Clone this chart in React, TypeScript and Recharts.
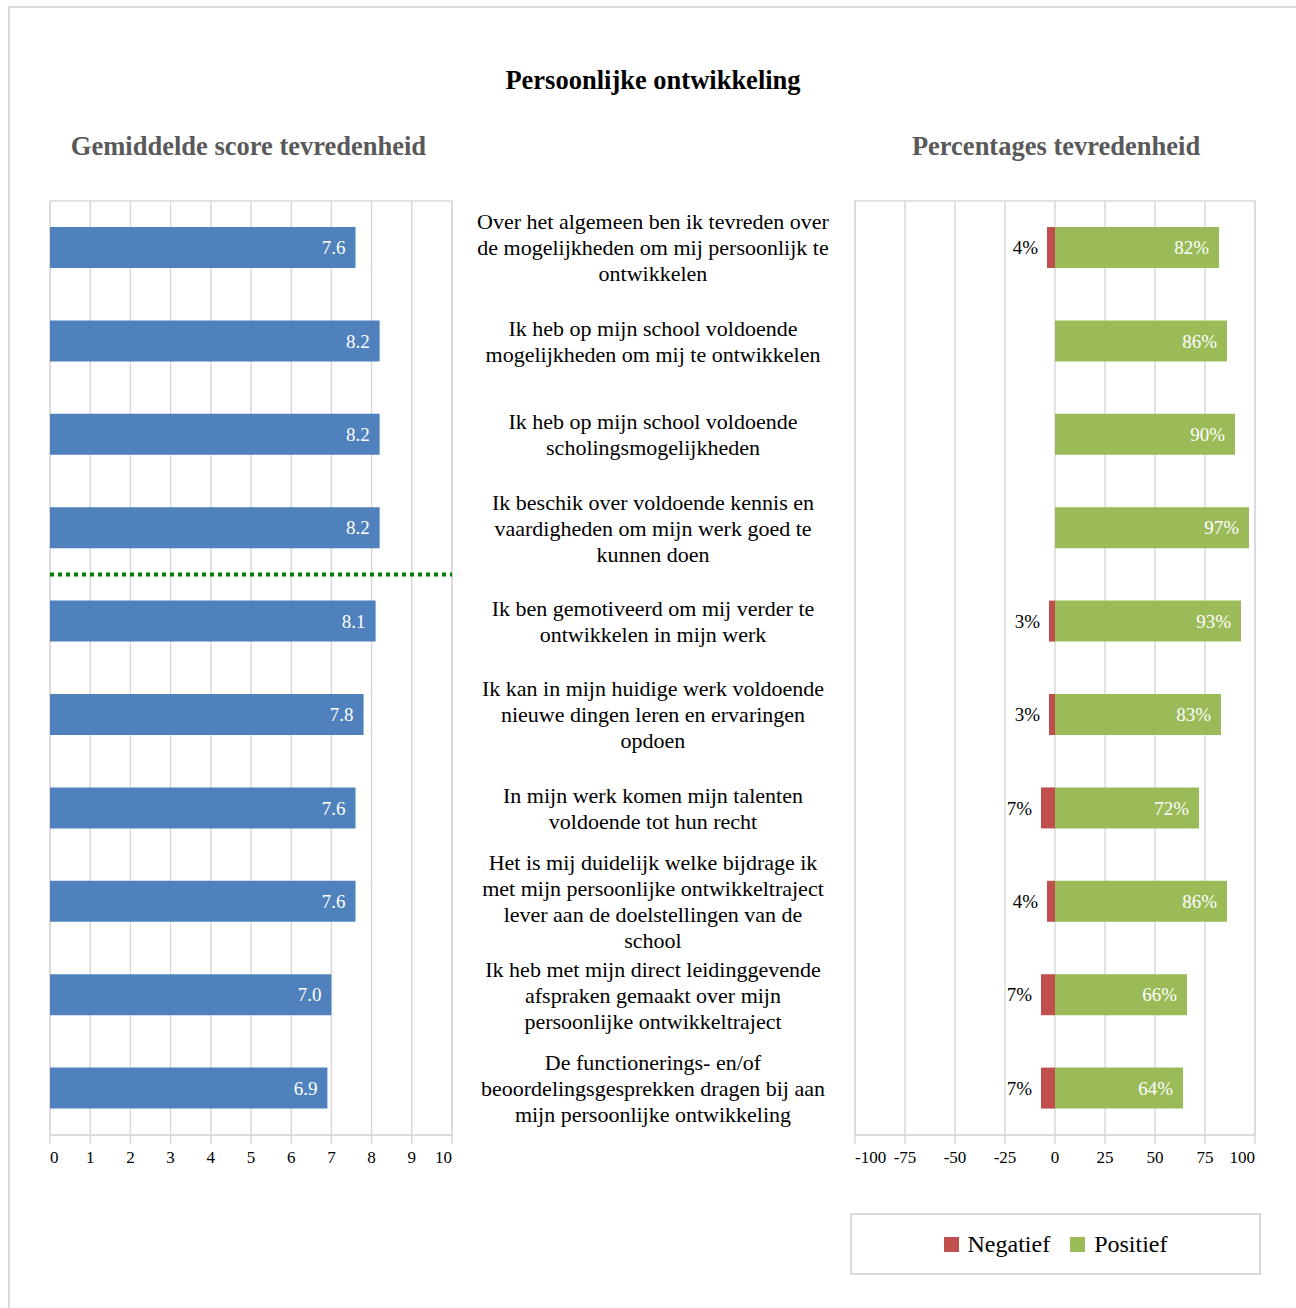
import { BarChart, Bar, XAxis, YAxis, CartesianGrid, ReferenceLine, ReferenceArea, LabelList, Legend } from "recharts";

const vragen = [
  "Over het algemeen ben ik tevreden over\nde mogelijkheden om mij persoonlijk te\nontwikkelen",
  "Ik heb op mijn school voldoende\nmogelijkheden om mij te ontwikkelen",
  "Ik heb op mijn school voldoende\nscholingsmogelijkheden",
  "Ik beschik over voldoende kennis en\nvaardigheden om mijn werk goed te\nkunnen doen",
  "Ik ben gemotiveerd om mij verder te\nontwikkelen in mijn werk",
  "Ik kan in mijn huidige werk voldoende\nnieuwe dingen leren en ervaringen\nopdoen",
  "In mijn werk komen mijn talenten\nvoldoende tot hun recht",
  "Het is mij duidelijk welke bijdrage ik\nmet mijn persoonlijke ontwikkeltraject\nlever aan de doelstellingen van de\nschool",
  "Ik heb met mijn direct leidinggevende\nafspraken gemaakt over mijn\npersoonlijke ontwikkeltraject",
  "De functionerings- en/of\nbeoordelingsgesprekken dragen bij aan\nmijn persoonlijke ontwikkeling",
];

const gemiddelde = [7.6, 8.2, 8.2, 8.2, 8.1, 7.8, 7.6, 7.6, 7.0, 6.9];
const negatief = [4, 0, 0, 0, 3, 3, 7, 4, 7, 7];
const positief = [82, 86, 90, 97, 93, 83, 72, 86, 66, 64];

const scoreTicks = [0, 1, 2, 3, 4, 5, 6, 7, 8, 9, 10];
const procentTicks = [-100, -75, -50, -25, 0, 25, 50, 75, 100];

const FONT = '"Liberation Serif", "Times New Roman", serif';
const BLUE = "#4F81BD";
const RED = "#C0504D";
const GREEN = "#9BBB59";
const GRID = "#d9d9d9";

const scoreData = vragen.map((vraag, i) => ({ vraag, score: gemiddelde[i] }));
const procentData = vragen.map((vraag, i) => ({
  vraag,
  negatief: negatief[i] ? -negatief[i] : 0,
  positief: positief[i],
}));

// excel zet de buitenste labels binnen de as
function AsTick(props: any) {
  const { x, y, payload, index, visibleTicksCount } = props;
  let anchor = "middle";
  if (index === 0) anchor = "start";
  if (index === visibleTicksCount - 1) anchor = "end";
  return (
    <text x={x} y={y} dy="0.71em" textAnchor={anchor} fontSize={17} fontFamily={FONT} fill="#000">
      {payload.value}
    </text>
  );
}

function VraagTick(props: any) {
  const { y, payload } = props;
  const lines = String(payload.value).split("\n");
  const lh = 26;
  const start = y - ((lines.length - 1) * lh) / 2;
  return (
    <text textAnchor="middle" fontSize={22} fontFamily={FONT} fill="#000">
      {lines.map((l, i) => (
        <tspan key={i} x={193} y={start + i * lh} dy="0.35em">
          {l}
        </tspan>
      ))}
    </text>
  );
}

function NegLabel(props: any) {
  const { x, y, width, height, value } = props;
  if (!value) return null;
  const left = Math.min(Number(x), Number(x) + Number(width));
  return (
    <text
      x={left - 9}
      y={Number(y) + Number(height) / 2}
      dy="0.35em"
      textAnchor="end"
      fontSize={19}
      fontFamily={FONT}
      fill="#000"
    >
      {Math.abs(value)}%
    </text>
  );
}

function LegendBox(props: any) {
  const items = props.payload || [];
  return (
    <div
      style={{
        boxSizing: "border-box",
        width: 411,
        height: 62,
        border: `2px solid ${GRID}`,
        display: "flex",
        alignItems: "center",
        justifyContent: "center",
        gap: 20,
        fontFamily: FONT,
        fontSize: 24,
        color: "#000",
      }}
    >
      {items.map((it: any, i: number) => (
        <div key={i} style={{ display: "flex", alignItems: "center", gap: 9 }}>
          <span style={{ width: 15, height: 15, background: it.color, display: "inline-block" }} />
          <span>{it.value}</span>
        </div>
      ))}
    </div>
  );
}

export default function App() {
  return (
    <div
      style={{
        position: "absolute",
        left: 0,
        top: 0,
        width: 1296,
        height: 1308,
        overflow: "hidden",
        background: "#fff",
        fontFamily: FONT,
      }}
    >
      <div
        style={{
          position: "absolute",
          left: 8,
          top: 6,
          width: 1320,
          height: 1320,
          border: `2px solid ${GRID}`,
        }}
      />
      <div style={{ position: "absolute", left: 403, width: 500, top: 65, textAlign: "center", fontWeight: "bold", fontSize: 26.5 }}>
        Persoonlijke ontwikkeling
      </div>
      <div style={{ position: "absolute", left: 0, width: 497, top: 131, textAlign: "center", fontWeight: "bold", fontSize: 26.5, color: "#595959" }}>
        Gemiddelde score tevredenheid
      </div>
      <div style={{ position: "absolute", left: 806, width: 500, top: 131, textAlign: "center", fontWeight: "bold", fontSize: 26.5, color: "#595959" }}>
        Percentages tevredenheid
      </div>

      <div style={{ position: "absolute", left: 0, top: 0 }}>
        <BarChart
          layout="vertical"
          width={470}
          height={1180}
          data={scoreData}
          margin={{ top: 201, right: 18, bottom: 0, left: 50 }}
        >
          <CartesianGrid horizontal={false} stroke={GRID} strokeWidth={1.5} />
          <XAxis
            type="number"
            domain={[0, 10]}
            ticks={scoreTicks}
            interval={0}
            height={45}
            stroke={GRID}
            strokeWidth={1.5}
            tick={<AsTick />}
            tickSize={9}
            tickMargin={7}
          />
          <YAxis type="category" dataKey="vraag" hide />
          <ReferenceArea x1={0} x2={10} fill="none" stroke={GRID} strokeWidth={1.5} ifOverflow="visible" />
          <Bar dataKey="score" fill={BLUE} barSize={41} isAnimationActive={false}>
            <LabelList
              dataKey="score"
              position="insideRight"
              offset={10}
              fill="#fff"
              fontSize={19}
              fontFamily={FONT}
              formatter={(v: any) => Number(v).toFixed(1)}
            />
          </Bar>
          <ReferenceLine
            y={vragen[4]}
            position="start"
            stroke="#008000"
            strokeWidth={4}
            strokeDasharray="4 4"
          />
        </BarChart>
      </div>

      <div style={{ position: "absolute", left: 460, top: 0 }}>
        <BarChart
          layout="vertical"
          width={820}
          height={1290}
          data={procentData}
          stackOffset="sign"
          margin={{ top: 201, right: 25, bottom: 110, left: 0 }}
        >
          <CartesianGrid horizontal={false} stroke={GRID} strokeWidth={1.5} />
          <XAxis
            type="number"
            domain={[-100, 100]}
            ticks={procentTicks}
            interval={0}
            height={45}
            stroke={GRID}
            strokeWidth={1.5}
            tick={<AsTick />}
            tickSize={9}
            tickMargin={7}
          />
          <YAxis
            type="category"
            dataKey="vraag"
            width={395}
            axisLine={false}
            tickLine={false}
            interval={0}
            tick={<VraagTick />}
          />
          <ReferenceArea x1={-100} x2={100} fill="none" stroke={GRID} strokeWidth={1.5} ifOverflow="visible" />
          <Bar dataKey="negatief" name="Negatief" stackId="a" fill={RED} barSize={41} isAnimationActive={false}>
            <LabelList dataKey="negatief" content={<NegLabel />} />
          </Bar>
          <Bar dataKey="positief" name="Positief" stackId="a" fill={GREEN} barSize={41} isAnimationActive={false}>
            <LabelList
              dataKey="positief"
              position="insideRight"
              offset={10}
              fill="#fff"
              fontSize={19}
              fontFamily={FONT}
              formatter={(v: any) => `${v}%`}
            />
          </Bar>
          <Legend
            layout="horizontal"
            verticalAlign="middle"
            align="center"
            wrapperStyle={{ left: 390, top: 1213, width: 411, height: 62 }}
            content={<LegendBox />}
          />
        </BarChart>
      </div>
    </div>
  );
}
